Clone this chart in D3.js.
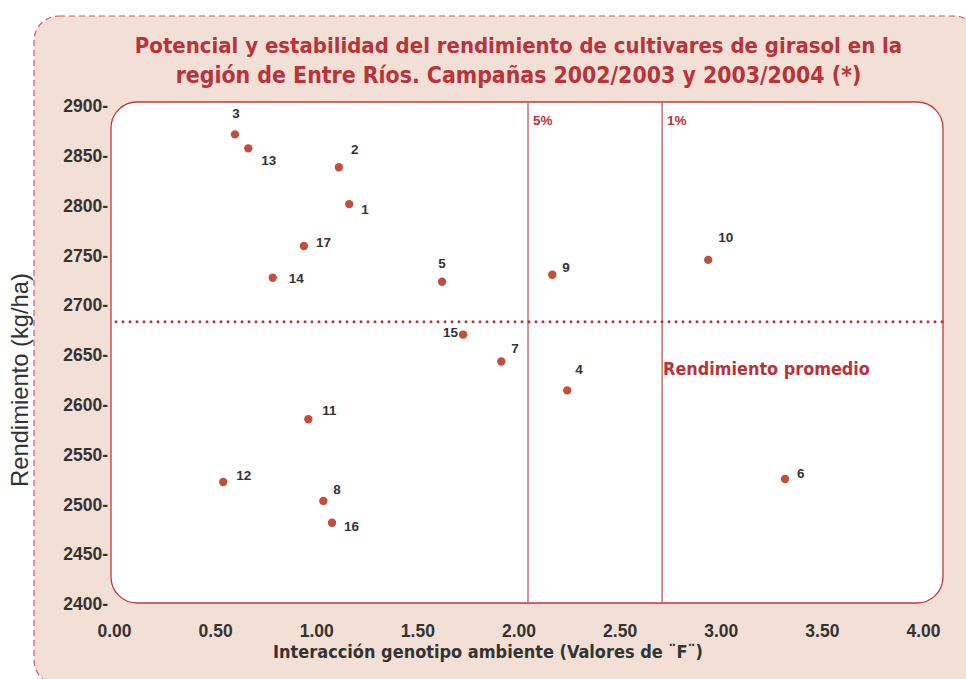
<!DOCTYPE html>
<html><head><meta charset="utf-8">
<script src="https://cdnjs.cloudflare.com/ajax/libs/d3/7.8.5/d3.min.js"></script>
<style>
html,body{margin:0;padding:0;background:#fff;}
svg{display:block;}
</style></head>
<body><svg id="c" width="966" height="679"></svg>
<script>
// ---- data ----
const cultivars = ["1","2","3","4","5","6","7","8","9","10","11","12","13","14","15","16","17"];
const interaction = [1.163,1.112,0.598,2.241,1.622,3.318,1.915,1.035,2.167,2.938,0.961,0.540,0.664,0.785,1.726,1.078,0.939];
const yieldKgHa = [2801,2838,2871,2614,2723,2525,2643,2503,2730,2745,2585,2522,2857,2727,2670,2481,2759];
const meanYield = 2683;
const thresholds = [{label:"5%", value:2.047},{label:"1%", value:2.710}];
const xTicks = [0,0.5,1,1.5,2,2.5,3,3.5,4];
const yTicks = [2400,2450,2500,2550,2600,2650,2700,2750,2800,2850,2900];
const titleLines = ["Potencial y estabilidad del rendimiento de cultivares de girasol en la",
                    "región de Entre Ríos. Campañas 2002/2003 y 2003/2004 (*)"];
const xTitle = "Interacción genotipo ambiente (Valores de ¨F¨)";
const yTitle = "Rendimiento (kg/ha)";
const meanLabel = "Rendimiento promedio";
// label nudges (layout only), in cultivar order
const labelNudge = [[12,10,"start"],[12,-13,"start"],[1,-16,"middle"],[8,-16,"start"],[0,-14,"middle"],[12,-1,"start"],
  [10,-8,"start"],[10,-7,"start"],[10,-3,"start"],[10,-18,"start"],[14,-4,"start"],[13,-2,"start"],
  [13,17,"start"],[16,5,"start"],[-5,2,"end"],[12,8,"start"],[12,1,"start"]];

// ---- drawing ----
const svg = d3.select("#c");
const red = "#b8333a", frameRed = "#c2393f", dark = "#333";
const sansB = "'Liberation Sans', Arial, sans-serif";
const narrow = "'Liberation Sans Narrow', 'DejaVu Sans Condensed', 'Liberation Sans', sans-serif";

// fit a text's font size so that its width equals a target
function fitWidth(sel, target, maxSize){
  sel.each(function(){
    const n = this; const fs = +n.getAttribute("font-size");
    const w = n.getComputedTextLength();
    if (w > 0) n.setAttribute("font-size", Math.min(maxSize, fs*target/w));
  });
}

svg.append("rect").attr("x",34).attr("y",16).attr("width",945).attr("height",669)
  .attr("rx",25).attr("fill","#f2dfd5").attr("stroke","#cc5a60").attr("stroke-width",1.2)
  .attr("stroke-dasharray","6 4");

const x = d3.scaleLinear().domain([0,4]).range([114,923]);
const y = d3.scaleLinear().domain([2400,2900]).range([603.5,105.5]);

const frame = {x:111, y:102, w:832, h:501};
svg.append("rect").attr("x",frame.x).attr("y",frame.y).attr("width",frame.w).attr("height",frame.h)
  .attr("rx",26).attr("fill","#fff").attr("stroke",frameRed).attr("stroke-width",1.3);

// title
const tt = svg.selectAll("text.title").data(titleLines).join("text").attr("class","title")
  .attr("x",518.5).attr("y",(d,i)=>53+i*30).attr("text-anchor","middle")
  .attr("font-family",narrow).attr("font-weight","bold").attr("font-size",25)
  .attr("fill",red).text(d=>d);
fitWidth(tt.filter((d,i)=>i===0), 768, 26);
fitWidth(tt.filter((d,i)=>i===1), 686, 26);

// threshold lines
const th = svg.append("g");
th.selectAll("line").data(thresholds).join("line")
  .attr("x1",d=>x(d.value)).attr("x2",d=>x(d.value)).attr("y1",frame.y).attr("y2",frame.y+frame.h)
  .attr("stroke","#c8565b").attr("stroke-width",1.3);
th.selectAll("text").data(thresholds).join("text")
  .attr("x",d=>x(d.value)+5).attr("y",125).attr("font-family",sansB).attr("font-weight","bold")
  .attr("font-size",13.5).attr("fill",red).text(d=>d.label);

// mean line
svg.append("line").attr("x1",116).attr("x2",frame.x+frame.w).attr("y1",y(meanYield)).attr("y2",y(meanYield))
  .attr("stroke",red).attr("stroke-width",3).attr("stroke-linecap","round").attr("stroke-dasharray","0 7");
const ml = svg.append("text").attr("x",x(thresholds[1].value)+1).attr("y",375)
  .attr("font-family",narrow).attr("font-weight","bold").attr("font-size",20)
  .attr("fill",red).text(meanLabel);
fitWidth(ml, 207, 21);

// axes (text ticks with hyphen marks like the original)
const yAxis = svg.append("g").attr("transform","translate(108,0)")
  .call(d3.axisLeft(y).tickValues(yTicks).tickSize(0).tickPadding(0).tickFormat(d=>d+"-"));
yAxis.select(".domain").remove();
yAxis.selectAll("text").attr("font-family",sansB).attr("font-weight","bold").attr("font-size",17.5)
  .attr("fill",dark).attr("dy","0.35em");

const xAxis = svg.append("g").attr("transform","translate(0,637)")
  .call(d3.axisBottom(x).tickValues(xTicks).tickSize(0).tickPadding(0).tickFormat(d3.format(".2f")));
xAxis.select(".domain").remove();
xAxis.selectAll("text").attr("font-family",sansB).attr("font-weight","bold").attr("font-size",17.5)
  .attr("fill",dark).attr("dy",0);

const xt = svg.append("text").attr("x",488).attr("y",658).attr("text-anchor","middle")
  .attr("font-family",narrow).attr("font-weight","bold").attr("font-size",18.5)
  .attr("fill",dark).text(xTitle);
fitWidth(xt, 430, 19.5);

const yt = svg.append("text").attr("transform","translate(28,380) rotate(-90)").attr("text-anchor","middle")
  .attr("font-family","'Liberation Sans', Arial, sans-serif").attr("font-size",23.5)
  .attr("fill",dark).text(yTitle);
fitWidth(yt, 214, 24);

// points
const pts = cultivars.map((c,i)=>({c, fx:interaction[i], yv:yieldKgHa[i], n:labelNudge[i]}));
svg.append("g").selectAll("circle").data(pts).join("circle")
  .attr("cx",d=>x(d.fx)).attr("cy",d=>y(d.yv)).attr("r",4.2).attr("fill","#c24f3c");
svg.append("g").selectAll("text").data(pts).join("text")
  .attr("x",d=>x(d.fx)+d.n[0]).attr("y",d=>y(d.yv)+d.n[1]).attr("text-anchor",d=>d.n[2])
  .attr("font-family",sansB).attr("font-weight","bold").attr("font-size",13.5).attr("fill",dark)
  .text(d=>d.c);
</script></body></html>
